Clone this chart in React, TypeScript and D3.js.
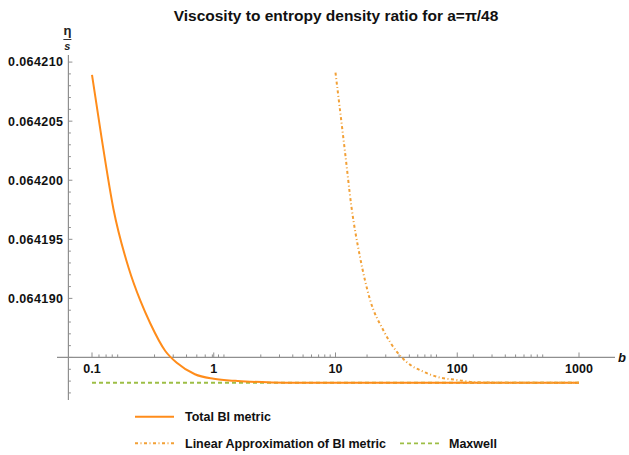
// Viscosity-to-entropy ratio chart: total BI metric vs. its linear approximation and Maxwell.
import * as d3 from 'd3';

const W = 629;
const H = 455;

// η/s, per b (log axis)
const bTotal = [0.1, 0.12, 0.15, 0.2, 0.25, 0.3, 0.4, 0.5, 0.7, 1, 1.5, 2, 3, 5, 10, 100, 1000];
const etaTotal = [
  0.06420891, 0.06420356, 0.06419757, 0.06419257, 0.06418978, 0.06418792, 0.06418555, 0.06418453,
  0.06418358, 0.0641832, 0.06418302, 0.06418295, 0.06418289, 0.06418286, 0.06418286, 0.06418286, 0.06418286,
];

const bLinear = [10, 12, 13.5, 15.9, 19.2, 24.7, 31.8, 38.5, 52.6, 72, 99, 135, 200, 1000];
const etaLinear = [
  0.0642091, 0.0642023, 0.0641978, 0.0641935, 0.0641899, 0.0641873, 0.0641855, 0.0641846,
  0.0641838, 0.0641833, 0.0641831, 0.06418292, 0.06418287, 0.06418286,
];

const bMaxwell = [0.1, 1000];
const etaMaxwell = [0.06418286, 0.06418286];

const xTickValues = [0.1, 1, 10, 100, 1000];
const xTickLabels = ['0.1', '1', '10', '100', '1000'];
const yTickValues = [0.06419, 0.064195, 0.0642, 0.064205, 0.06421];
const yTickLabels = ['0.064190', '0.064195', '0.064200', '0.064205', '0.064210'];

const seriesNames = ['Total BI metric', 'Linear Approximation of BI metric', 'Maxwell'];

const TOTAL_COLOR = '#FF8C1A';
const LINEAR_COLOR = '#F2A036';
const MAXWELL_COLOR = '#9DBE45';
const AXIS_COLOR = '#8f8f8f';
const FONT = '"Liberation Sans", Arial, sans-serif';

// Mathematica-style axes: x axis crosses at η/s = 0.064185, y axis at b ≈ 0.064
const X_CROSS = 0.064185;
const Y_CROSS_B = 0.064;

type Pt = { b: number; v: number };
const zip = (bs: number[], vs: number[]): Pt[] => bs.map((b, i) => ({ b, v: vs[i] }));

export default function App() {
  const x = d3.scaleLog().domain([0.1, 1000]).range([92, 579]);
  const y = d3.scaleLinear().domain([0.0641814, 0.0642106]).range([400, 55]);

  const xAxis = x.copy().domain([x.invert(57), x.invert(615)]);
  const axisY = y(X_CROSS);
  const axisX = x(Y_CROSS_B);

  const line = d3.line<Pt>()
    .x((d) => x(d.b))
    .y((d) => y(d.v))
    .curve(d3.curveMonotoneX);

  const xMinor = xAxis.ticks().filter((t) => !xTickValues.some((m) => Math.abs(m - t) / m < 1e-6));
  const yAll = y.ticks(30);
  const yMinor = yAll.filter((t) => Math.round(t * 1e6) % 5 !== 0);
  const yMajor = yAll.filter((t) => Math.round(t * 1e6) % 5 === 0);

  return (
    <svg width={W} height={H} style={{ position: 'absolute', left: 0, top: 0, background: '#fff' }}
      fontFamily={FONT}>
      <text x={336} y={21} textAnchor="middle" fontSize={15.5} fontWeight="bold" fill="#111">
        Viscosity to entropy density ratio for a=π/48
      </text>

      {/* y label η/s */}
      <text x={axisX - 1} y={35} textAnchor="middle" fontSize={13} fontWeight="bold" fill="#222">η</text>
      <line x1={axisX - 5} x2={axisX + 3} y1={39.5} y2={39.5} stroke="#333" strokeWidth={1} />
      <text x={axisX - 1} y={49.5} textAnchor="middle" fontSize={11} fontWeight="bold" fontStyle="italic" fill="#222">s</text>

      {/* axes */}
      <line x1={57} x2={615} y1={axisY} y2={axisY} stroke={AXIS_COLOR} strokeWidth={1.2} />
      <line x1={axisX} x2={axisX} y1={55} y2={400} stroke={AXIS_COLOR} strokeWidth={1.2} />

      {xMinor.map((t, i) => (
        <line key={'xm' + i} x1={xAxis(t)} x2={xAxis(t)} y1={axisY} y2={axisY - 3}
          stroke={AXIS_COLOR} strokeWidth={1} />
      ))}
      {xTickValues.map((t, i) => (
        <g key={'xt' + i}>
          <line x1={x(t)} x2={x(t)} y1={axisY} y2={axisY - 5} stroke={AXIS_COLOR} strokeWidth={1} />
          <text x={x(t)} y={axisY + 15.5} textAnchor="middle" fontSize={12.5} fontWeight="bold" fill="#111">
            {xTickLabels[i]}
          </text>
        </g>
      ))}
      <text x={622} y={axisY + 4.5} textAnchor="middle" fontSize={13} fontWeight="bold" fontStyle="italic"
        fill="#111">b</text>

      {yMinor.map((t, i) => (
        <line key={'ym' + i} x1={axisX} x2={axisX + 2.5} y1={y(t)} y2={y(t)} stroke={AXIS_COLOR} strokeWidth={1} />
      ))}
      {yMajor.map((t, i) => (
        <line key={'yM' + i} x1={axisX} x2={axisX + 4} y1={y(t)} y2={y(t)} stroke={AXIS_COLOR} strokeWidth={1} />
      ))}
      {yTickValues.map((t, i) => (
        <text key={'yt' + i} x={axisX - 5} y={y(t) + 4.4} textAnchor="end" fontSize={12.5} fontWeight="bold"
          letterSpacing={0.4} fill="#111">
          {yTickLabels[i]}
        </text>
      ))}

      {/* series */}
      <path d={line(zip(bMaxwell, etaMaxwell)) ?? ''} fill="none" stroke={MAXWELL_COLOR} strokeWidth={1.8}
        strokeDasharray="4,3" />
      <path d={line(zip(bTotal, etaTotal)) ?? ''} fill="none" stroke={TOTAL_COLOR} strokeWidth={2} />
      <path d={line(zip(bLinear, etaLinear)) ?? ''} fill="none" stroke={LINEAR_COLOR} strokeWidth={2}
        strokeDasharray="3,2.5,1,2.5" />

      {/* legend */}
      <line x1={135} x2={174} y1={416.7} y2={416.7} stroke={TOTAL_COLOR} strokeWidth={2} />
      <text x={185} y={421} fontSize={12.5} fontWeight="bold" fill="#111">{seriesNames[0]}</text>
      <line x1={135} x2={174} y1={443.3} y2={443.3} stroke={LINEAR_COLOR} strokeWidth={2}
        strokeDasharray="3,2.5,1,2.5" />
      <text x={185} y={447.6} fontSize={12.5} fontWeight="bold" fill="#111">{seriesNames[1]}</text>
      <line x1={400} x2={440} y1={443.3} y2={443.3} stroke={MAXWELL_COLOR} strokeWidth={1.8}
        strokeDasharray="4,3" />
      <text x={449} y={447.6} fontSize={12.5} fontWeight="bold" fill="#111">{seriesNames[2]}</text>
    </svg>
  );
}
